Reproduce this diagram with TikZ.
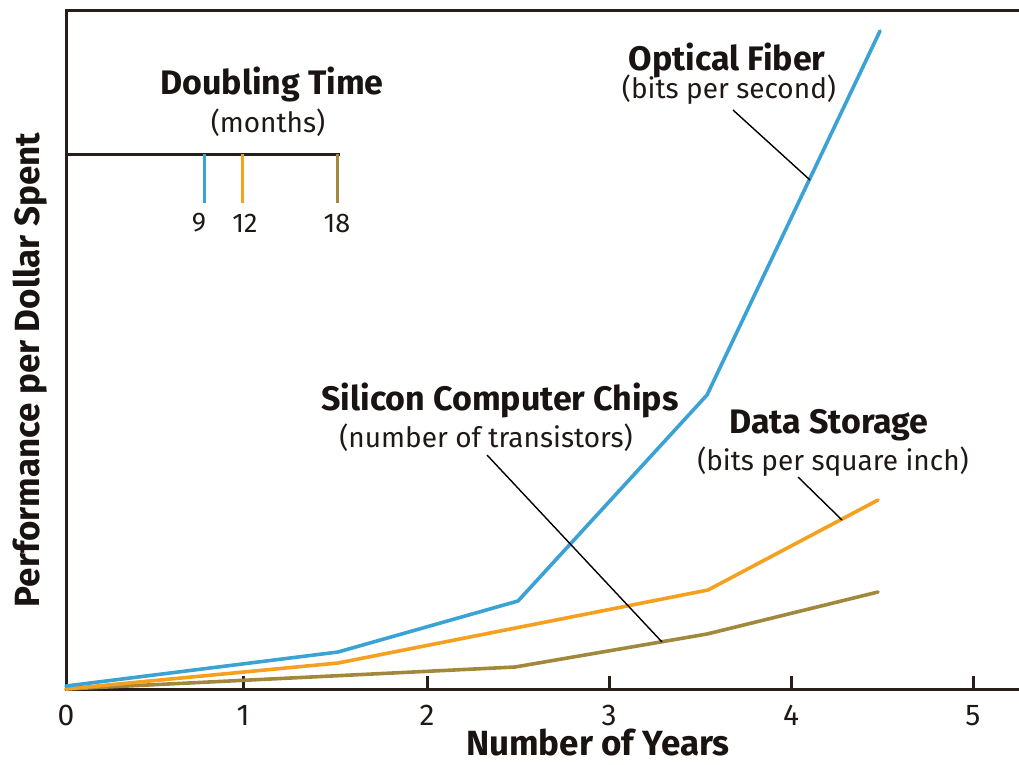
\documentclass[tikz,border=0pt]{standalone}
\usepackage{fontspec}
\setmainfont{Fira Sans}
\begin{document}
\begin{tikzpicture}[x=1pt,y=-1pt,
  axis/.style={line width=3pt,draw={rgb,255:red,40;green,30;blue,25}},
  curve/.style={line width=3.6pt,line join=round,line cap=round},
  leader/.style={line width=1.4pt,draw=black},
  title/.style={font=\bfseries\fontsize{34}{35}\selectfont,inner sep=0pt,text={rgb,255:red,25;green,20;blue,18}},
  atitle/.style={font=\bfseries\fontsize{35}{36}\selectfont,inner sep=0pt,text={rgb,255:red,25;green,20;blue,18}},
  sub/.style={font=\fontsize{28}{30}\selectfont,inner sep=0pt,text={rgb,255:red,30;green,25;blue,22}},
  num/.style={font=\fontsize{30}{32}\selectfont,inner sep=0pt,anchor=base,text={rgb,255:red,30;green,25;blue,22}},
  lnum/.style={font=\fontsize{27}{29}\selectfont,inner sep=0pt,text={rgb,255:red,30;green,25;blue,22}},
  tick/.style={line width=3pt,draw={rgb,255:red,40;green,30;blue,25}}]
\definecolor{cblue}{RGB}{58,162,212}
\definecolor{corange}{RGB}{245,160,30}
\definecolor{cbrown}{RGB}{162,136,60}
\useasboundingbox (0,0) rectangle (1019,764);
% axes frame
\coordinate (O) at (66,689);
\coordinate (top) at (66,10);
\coordinate (topr) at (1019,10);
\coordinate (xr) at (1019,689);
\draw[axis,line cap=rect] (topr) -- (top) -- (O) -- (xr);
% x ticks and labels
\foreach \i/\x in {1/243,2/427,3/609,4/791,5/973}{
  \coordinate (t\i) at (\x,676);
  \coordinate (b\i) at (\x,691);
  \draw[tick] (t\i) -- (b\i);
  \node[num] (n\i) at (\x,725) {\i};
}
\node[num] (n0) at (66,725) {0};
\node[atitle,anchor=base] (xlab) at (598,755) {Number of Years};
\node[atitle,rotate=90] (ylab) at (30,370) {Performance per Dollar Spent};
% legend
\node[title] (dt) at (272,84) {Doubling Time};
\node[sub] (mo) at (268,123) {(months)};
\coordinate (ls) at (66,154);
\coordinate (le) at (340,154);
\draw[axis] (ls) -- (le);
\coordinate (l9a) at (204,154); \coordinate (l9b) at (204,203);
\coordinate (l12a) at (242,154); \coordinate (l12b) at (242,203);
\coordinate (l18a) at (337,154); \coordinate (l18b) at (337,203);
\draw[line width=3pt,cblue] (l9a) -- (l9b);
\draw[line width=3pt,corange] (l12a) -- (l12b);
\draw[line width=3pt,cbrown] (l18a) -- (l18b);
\node[lnum] (d9) at (199,223) {9};
\node[lnum] (d12) at (245,223) {12};
\node[lnum] (d18) at (337,223) {18};
% curves
\coordinate (bl0) at (66,686); \coordinate (bl1) at (338,652); \coordinate (bl2) at (518,601);
\coordinate (bl3) at (707,395); \coordinate (bl4) at (880,31);
\coordinate (or0) at (66,689); \coordinate (or1) at (338,663); \coordinate (or2) at (708,590);
\coordinate (or3) at (878,500);
\coordinate (br0) at (66,689); \coordinate (br1) at (515,667); \coordinate (br2) at (707,634);
\coordinate (br3) at (878,592);
\draw[curve,cbrown] (br0) -- (br1) -- (br2) -- (br3);
\draw[curve,corange] (or0) -- (or1) -- (or2) -- (or3);
\draw[curve,cblue] (bl0) -- (bl1) -- (bl2) -- (bl3) -- (bl4);
% labels
\node[title] (of) at (727,60) {Optical Fiber};
\node[sub] (ofs) at (729,90) {(bits per second)};
\coordinate (ofl1) at (733,110); \coordinate (ofl2) at (810,180);
\draw[leader] (ofl1) -- (ofl2);
\node[title] (sc) at (500,400) {Silicon Computer Chips};
\node[sub] (scs) at (486,438) {(number of transistors)};
\coordinate (scl1) at (487,455); \coordinate (scl2) at (662,642);
\draw[leader] (scl1) -- (scl2);
\node[title] (ds) at (829,425) {Data Storage};
\node[sub] (dss) at (833,462) {(bits per square inch)};
\coordinate (dsl1) at (798,477); \coordinate (dsl2) at (842,520);
\draw[leader] (dsl1) -- (dsl2);
\end{tikzpicture}
\end{document}
